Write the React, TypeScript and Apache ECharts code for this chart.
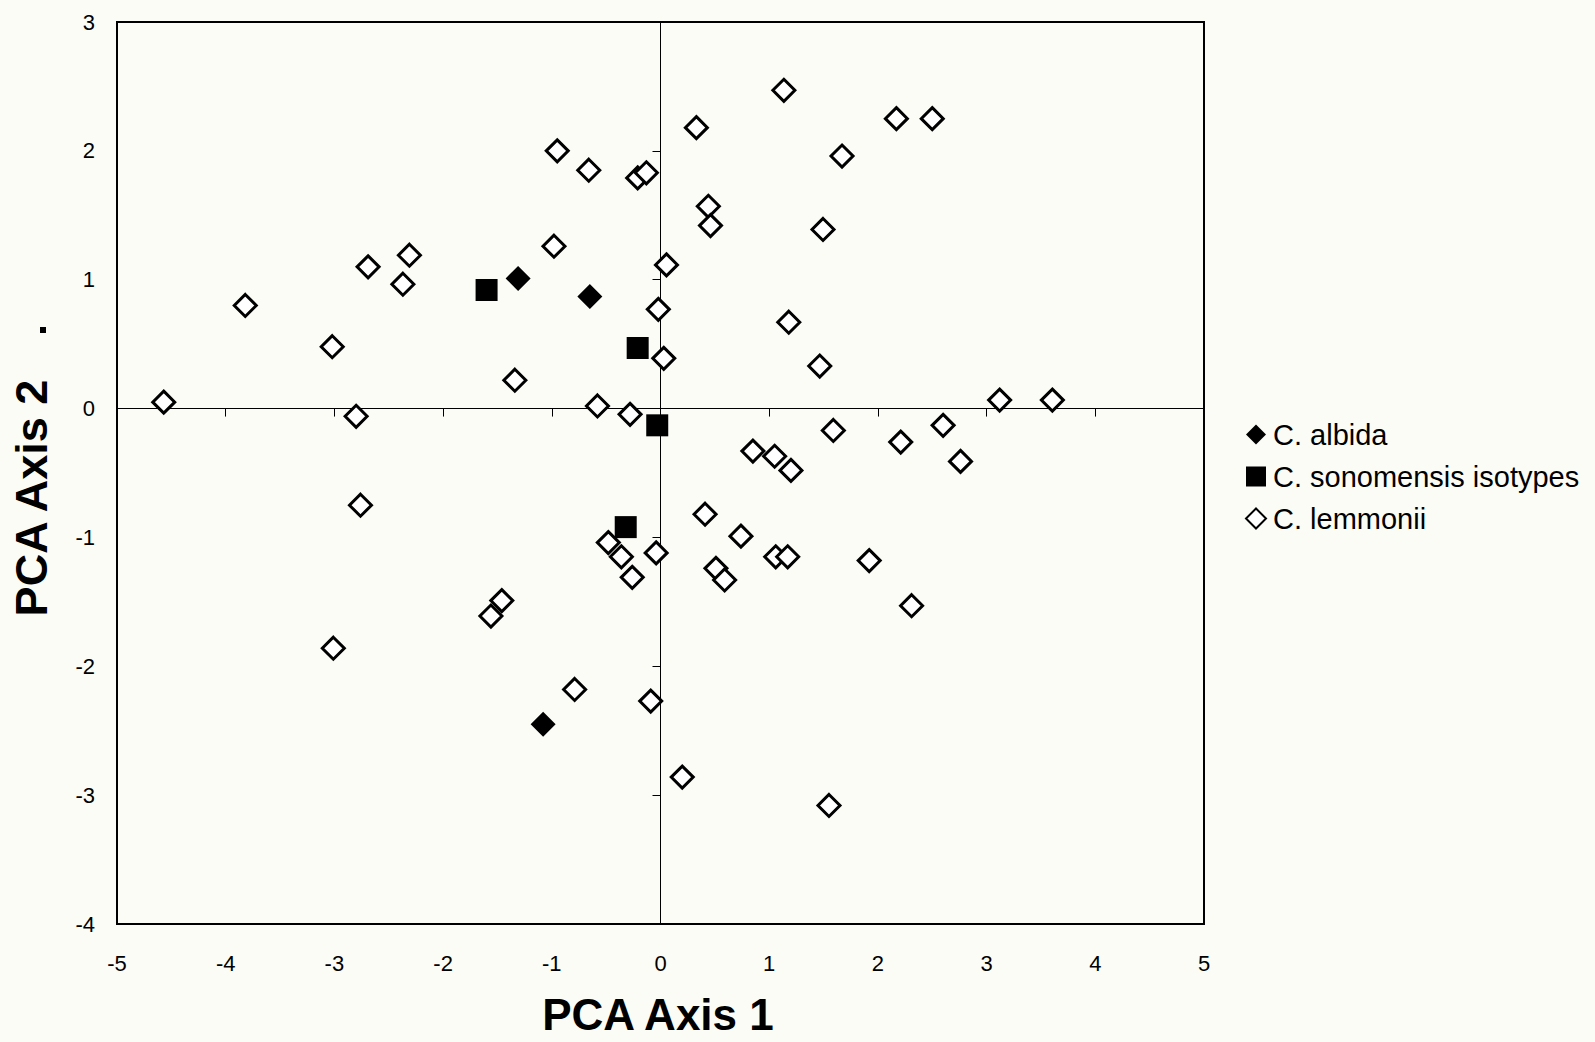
import React, { useEffect, useRef } from "react";
import * as echarts from "echarts";

const seriesNames = ["C. albida", "C. sonomensis isotypes", "C. lemmonii"];

const albida: number[][] = [
  [-1.31, 1.01],
  [-0.65, 0.87],
  [-1.08, -2.45],
];

const sonomensis: number[][] = [
  [-1.6, 0.92],
  [-0.21, 0.47],
  [-0.03, -0.13],
  [-0.32, -0.92],
];

const lemmonii: number[][] = [
  [-4.57, 0.05], [-3.82, 0.8], [-3.02, 0.48], [-2.69, 1.1], [-2.31, 1.19],
  [-2.37, 0.965], [-2.8, -0.06], [-2.76, -0.75], [-3.01, -1.86], [-1.46, -1.49],
  [-1.56, -1.61], [-0.79, -2.18], [-1.34, 0.22], [-0.98, 1.26], [-0.95, 2.0],
  [-0.66, 1.85], [-0.21, 1.79], [-0.13, 1.83], [-0.58, 0.02], [-0.28, -0.045],
  [-0.48, -1.04], [-0.36, -1.15], [-0.26, -1.31], [-0.04, -1.12], [-0.09, -2.27],
  [0.2, -2.86], [-0.02, 0.77], [0.055, 1.115], [0.03, 0.39], [0.33, 2.18],
  [0.44, 1.57], [0.46, 1.42], [1.135, 2.47], [1.67, 1.96], [2.17, 2.25],
  [2.5, 2.25], [1.495, 1.39], [1.18, 0.67], [1.465, 0.33], [3.12, 0.066],
  [3.605, 0.066], [0.85, -0.33], [1.05, -0.37], [1.2, -0.48], [1.59, -0.17],
  [2.21, -0.26], [2.6, -0.13], [2.76, -0.41], [0.41, -0.82], [0.74, -0.99],
  [0.51, -1.24], [0.59, -1.33], [1.06, -1.15], [1.17, -1.15], [1.92, -1.18],
  [2.31, -1.53], [1.55, -3.08],
];

const xRange = [-5, 5];
const yRange = [-4, 3];
const xTitle = "PCA Axis 1";
const yTitle = "PCA Axis 2";

export default function App() {
  const ref = useRef<HTMLDivElement>(null);
  useEffect(() => {
    document.body.style.margin = "0";
    document.body.style.background = "#fcfcf7";
    const chart = echarts.init(ref.current!, null, { renderer: "svg" });
    const font = "'Liberation Sans', Arial, Helvetica, sans-serif";
    const labelAxisCommon = {
      type: "value" as const,
      interval: 1,
      axisLine: { show: false, onZero: false },
      axisTick: { show: false },
      splitLine: { show: false },
    };
    const zeroAxisCommon = {
      type: "value" as const,
      interval: 1,
      axisLine: { show: true, onZero: true, lineStyle: { color: "#000", width: 1 } },
      axisTick: { show: true, length: 8, lineStyle: { color: "#000", width: 1 } },
      axisLabel: { show: false },
      splitLine: { show: false },
    };
    chart.setOption({
      animation: false,
      backgroundColor: "#fcfcf7",
      grid: {
        left: 117,
        top: 22,
        width: 1087,
        height: 902,
        show: true,
        borderColor: "#000",
        borderWidth: 2,
        backgroundColor: "transparent",
      },
      xAxis: [
        {
          ...labelAxisCommon,
          min: xRange[0],
          max: xRange[1],
          position: "bottom",
          axisLabel: { fontSize: 22, color: "#000", margin: 28, fontFamily: font },
        },
        { ...zeroAxisCommon, min: xRange[0], max: xRange[1], position: "bottom" },
      ],
      yAxis: [
        {
          ...labelAxisCommon,
          min: yRange[0],
          max: yRange[1],
          position: "left",
          axisLabel: { fontSize: 22, color: "#000", margin: 22, fontFamily: font },
        },
        { ...zeroAxisCommon, min: yRange[0], max: yRange[1], position: "left" },
      ],
      legend: {
        orient: "vertical",
        left: 1240,
        top: 415,
        padding: 5,
        itemWidth: 20,
        itemHeight: 20,
        itemGap: 13,
        data: seriesNames,
        textStyle: {
          fontSize: 29,
          color: "#000",
          fontFamily: font,
          padding: [0, 0, 0, 2],
        },
      },
      graphic: [
        {
          type: "text",
          x: 658,
          y: 1014,
          style: {
            text: xTitle,
            fontSize: 44,
            fontWeight: "bold",
            fontFamily: font,
            fill: "#000",
            align: "center",
            verticalAlign: "middle",
          },
        },
        {
          type: "text",
          x: 31,
          y: 498,
          rotation: Math.PI / 2,
          style: {
            text: yTitle,
            fontSize: 45,
            fontWeight: "bold",
            fontFamily: font,
            fill: "#000",
            align: "center",
            verticalAlign: "middle",
          },
        },
        {
          type: "rect",
          shape: { x: 40, y: 327, width: 6, height: 6 },
          style: { fill: "#000" },
        },
      ],
      series: [
        {
          name: seriesNames[2],
          type: "scatter",
          data: lemmonii,
          symbol: "diamond",
          symbolSize: 22,
          itemStyle: { color: "#ffffff", borderColor: "#000", borderWidth: 3, opacity: 1 },
          z: 2,
        },
        {
          name: seriesNames[0],
          type: "scatter",
          data: albida,
          symbol: "diamond",
          symbolSize: 25,
          itemStyle: { color: "#000", opacity: 1 },
          z: 3,
        },
        {
          name: seriesNames[1],
          type: "scatter",
          data: sonomensis,
          symbol: "rect",
          symbolSize: 22,
          itemStyle: { color: "#000", opacity: 1 },
          z: 3,
        },
      ],
    });
    return () => chart.dispose();
  }, []);
  return <div ref={ref} style={{ width: 1595, height: 1042 }} />;
}
